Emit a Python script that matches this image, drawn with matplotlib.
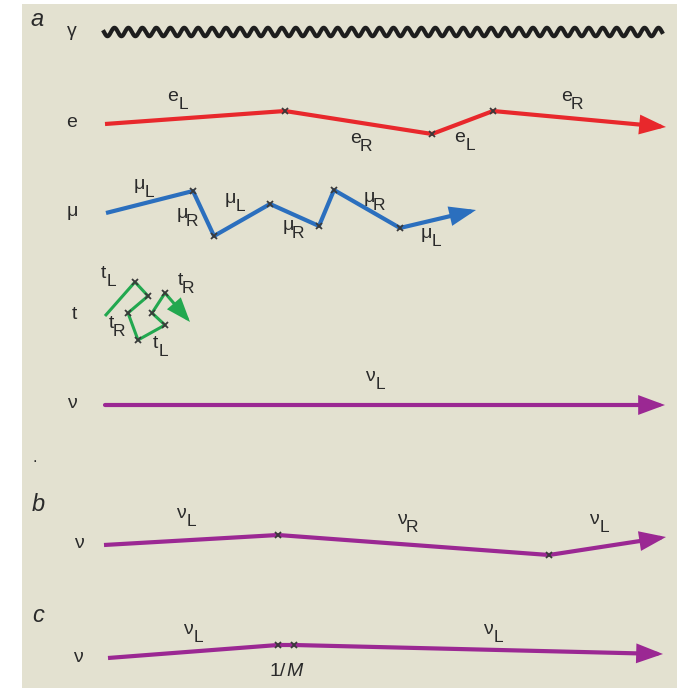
import numpy as np
import matplotlib
matplotlib.use("Agg")
import matplotlib.pyplot as plt
from matplotlib.patches import Rectangle, FancyArrowPatch

plt.rcParams['font.family'] = ['Liberation Sans', 'DejaVu Sans']

# ---------------- data (diagram vertices, pixel space) ----------------
photon_x = [104, 662]
photon_y = 32
photon_periods = 40
photon_amp = 4.2

e_x = [105, 285, 432, 493, 666]
e_y = [124, 111, 134, 111, 127]

mu_x = [106, 193, 214, 270, 319, 334, 400, 476]
mu_y = [213, 191, 236, 204, 226, 190, 228, 210]

t_x = [105, 135, 148, 128, 138, 165, 152, 165, 190]
t_y = [316, 282, 296, 313, 340, 325, 313, 293, 322]

nu_a_x = [105, 665]
nu_a_y = [405, 405]

nu_b_x = [104, 278, 549, 666]
nu_b_y = [545, 535, 555, 537]

nu_c_x = [108, 278, 294, 663]
nu_c_y = [658, 645, 645, 654]

# labels: (x, y, main, sub)
e_labels = [(173, 96, 'e', 'L'), (356, 138, 'e', 'R'), (460, 137, 'e', 'L'), (567, 96, 'e', 'R')]
mu_labels = [(139, 184, 'μ', 'L'), (182, 213, 'μ', 'R'), (230, 198, 'μ', 'L'),
             (288, 225, 'μ', 'R'), (369, 197, 'μ', 'R'), (426, 233, 'μ', 'L')]
t_labels = [(103, 273, 't', 'L'), (111, 323, 't', 'R'), (155, 343, 't', 'L'), (180, 280, 't', 'R')]
nu_a_labels = [(370, 376, 'ν', 'L')]
nu_b_labels = [(181, 514, 'ν', 'L'), (402, 519, 'ν', 'R'), (594, 519, 'ν', 'L')]
nu_c_labels = [(188, 629, 'ν', 'L'), (488, 629, 'ν', 'L')]

row_names = [(72, 31, 'γ'), (72, 122, 'e'), (72, 211, 'μ'), (74, 314, 't'),
             (72, 403, 'ν'), (79, 544, 'ν'), (78, 657, 'ν')]
panel_letters = [(37, 19, 'a'), (38, 504, 'b'), (38, 616, 'c')]

RED = '#e8282c'
BLUE = '#2b6fbe'
GREEN = '#22a84f'
PURPLE = '#9b2893'
BG = '#e3e1d0'
TXT = '#2a2a2a'

W, H = 677, 691
fig = plt.figure(figsize=(W / 100, H / 100), dpi=100)
ax = fig.add_axes([0, 0, 1, 1])
ax.set_xlim(0, W)
ax.set_ylim(H, 0)
ax.axis('off')
fig.patch.set_facecolor('white')

ax.add_patch(Rectangle((22, 4), W - 22, 684, facecolor=BG, edgecolor='none', zorder=0))

LW = 3.0
FS = 14
SFS = 12.5


def path(xs, ys, color, lw=LW, crosses=True):
    xs = np.asarray(xs, float)
    ys = np.asarray(ys, float)
    ax.plot(xs[:-1], ys[:-1], color=color, lw=lw, solid_joinstyle='round',
            solid_capstyle='butt', zorder=2)
    arr = FancyArrowPatch((xs[-2], ys[-2]), (xs[-1], ys[-1]),
                          arrowstyle='-|>,head_length=1.35,head_width=0.5',
                          mutation_scale=10, color=color, lw=lw,
                          shrinkA=0, shrinkB=0, zorder=2, joinstyle='miter')
    ax.add_patch(arr)
    if crosses:
        ax.plot(xs[1:-1], ys[1:-1], 'x', color='#3a3a3a', ms=5, mew=1.3, zorder=3)


def label(x, y, main, sub, dx=10, dy=8):
    ax.text(x, y, main, fontsize=FS, color=TXT, ha='center', va='center', zorder=4)
    ax.text(x + dx, y + dy, sub, fontsize=SFS, color=TXT, ha='center', va='center', zorder=4)


# photon wave
xw = np.linspace(photon_x[0], photon_x[1], 2000)
yw = photon_y + photon_amp * np.sin(2 * np.pi * photon_periods * (xw - xw[0]) / (xw[-1] - xw[0]))
ax.plot(xw, yw, color='#1e1e1e', lw=3.0, zorder=2)

path(e_x, e_y, RED)
path(mu_x, mu_y, BLUE)
path(t_x, t_y, GREEN, lw=2.2)
path(nu_a_x, nu_a_y, PURPLE, crosses=False)
path(nu_b_x, nu_b_y, PURPLE)
path(nu_c_x, nu_c_y, PURPLE)

for lab in e_labels + mu_labels + nu_a_labels + nu_b_labels + nu_c_labels:
    label(*lab)
for lab in t_labels:
    label(*lab, dx=8, dy=8)

for x, y, s in row_names:
    ax.text(x, y, s, fontsize=FS, color=TXT, ha='center', va='center')
for x, y, s in panel_letters:
    ax.text(x, y, s, fontsize=17, color=TXT, ha='center', va='center', style='italic')

ax.text(286, 671, '1/', fontsize=FS, color=TXT, ha='right', va='center')
ax.text(286, 671, 'M', fontsize=FS, color=TXT, ha='left', va='center', style='italic')
ax.text(35, 457, '.', fontsize=12, color=TXT, ha='center', va='center')

fig.savefig('out.png', dpi=100, facecolor='white')
